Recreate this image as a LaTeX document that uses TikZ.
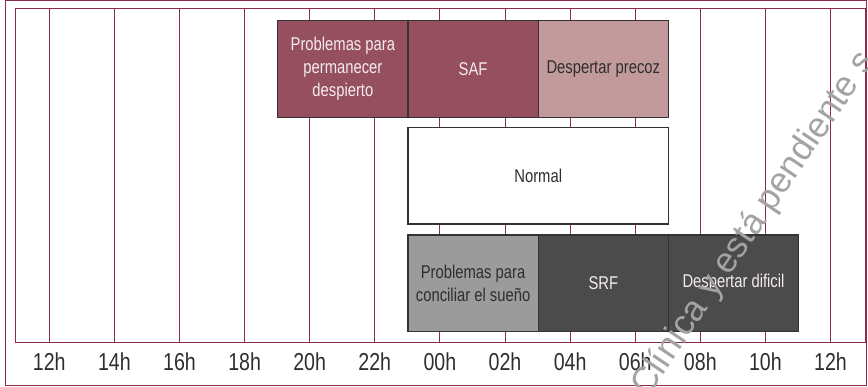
\documentclass[tikz,border=0pt]{standalone}
\usepackage{fontspec}
\setmainfont[FakeStretch=0.8]{Liberation Sans}
\newfontfamily\wmfont{Liberation Sans}
\definecolor{gridc}{HTML}{8E2A4C}
\definecolor{maroonc}{HTML}{954F5F}
\definecolor{rosec}{HTML}{C39A9C}
\definecolor{midgrey}{HTML}{9B9B9B}
\definecolor{darkgrey}{HTML}{4B4B4B}
\definecolor{boxedge}{HTML}{333333}
\definecolor{txtdark}{HTML}{2E2E2E}
\definecolor{txtlight}{HTML}{F5ECEE}
\definecolor{wmc}{HTML}{A3A3A3}
\begin{document}
\begin{tikzpicture}[x=1pt,y=-1pt,
  box/.style={draw=boxedge, line width=1.3pt, inner sep=0pt,
    minimum width=130.2pt, minimum height=96.5pt, anchor=north west,
    align=center, font=\fontsize{18.5}{23.3}\selectfont},
  lab/.style={anchor=base, inner sep=0pt, text=txtdark,
    font=\fontsize{24.5}{26}\selectfont},
  gridline/.style={draw=gridc, line width=1pt},
  frame/.style={draw=gridc, line width=1pt}]
\useasboundingbox (0,0) rectangle (868,386);
% frames
\draw[frame] (5.7,0.7) rectangle (866.6,385.3);
\draw[frame] (15.3,8.3) rectangle (865,342.3);
% grid lines
\foreach \h in {0,2,...,24}{
  \draw[gridline] ({49.3+32.55*\h},8.3) -- ({49.3+32.55*\h},342.3);
}
% hour labels
\foreach \h/\t/\n in {0/12h/a,2/14h/b,4/16h/c,6/18h/d,8/20h/e,10/22h/f,12/00h/g,14/02h/h,16/04h/i,18/06h/j,20/08h/k,22/10h/l,24/12h/m}{
  \node[lab] (lab\n) at ({49.3+32.55*\h},370.5) {\t};
}
% top row
\node[box, fill=maroonc, text=txtlight] (ppd) at ({49.3+32.55*7},20) {Problemas para\\permanecer\\despierto};
\node[box, fill=maroonc, text=txtlight] (saf) at ({49.3+32.55*11},20) {SAF};
\node[box, fill=rosec, text=txtdark] (dp) at ({49.3+32.55*15},20) {Despertar precoz};
% middle
\node[box, fill=white, text=txtdark, minimum width=260.4pt] (normal) at ({49.3+32.55*11},126.7) {Normal};
% bottom row
\node[box, fill=midgrey, text=txtdark] (pcs) at ({49.3+32.55*11},234.2) {Problemas para\\conciliar el sueño};
\node[box, fill=darkgrey, text=txtlight] (srf) at ({49.3+32.55*15},234.2) {SRF};
\node[box, fill=darkgrey, text=txtlight] (dd) at ({49.3+32.55*19},234.2) {Despertar dificil};
% watermark
\node[anchor=base west, inner sep=0pt, rotate=56, text=wmc, font=\wmfont\fontsize{35.5}{38}\selectfont] (wm) at (648,398)
  {Clínica y está pendiente s};
\end{tikzpicture}
\end{document}
